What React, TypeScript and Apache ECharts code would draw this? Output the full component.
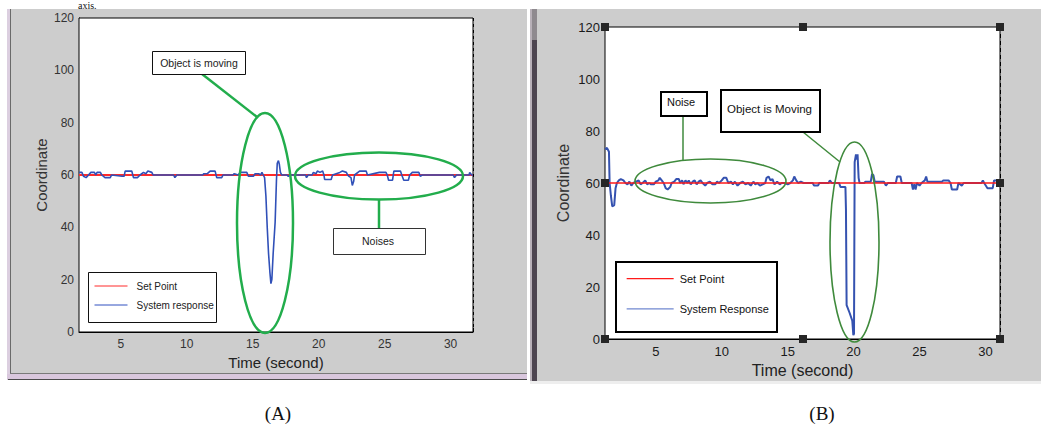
import React, { useEffect, useRef } from 'react';
import * as echarts from 'echarts';

// ---- Panel (A) data ----
const rangeA = [1.83, 31.7];
const setPointA: [number, number][] = [[1.83, 60], [31.7, 60]];
const responseA: [number, number][] = [
  [1.84, 61], [2.05, 61], [2.17, 59.5], [2.37, 59], [2.55, 60], [2.73, 61], [3.0, 61], [3.1, 60],
  [3.2, 61], [3.45, 61], [3.56, 60], [3.8, 59], [4.2, 59], [4.3, 60], [5.1, 59.5], [5.25, 59.5],
  [5.33, 61.5], [5.83, 61.5], [5.96, 59], [6.26, 59], [6.46, 60], [6.72, 61], [6.9, 60.5], [7.05, 61.5],
  [7.35, 61], [7.45, 60], [9.0, 60], [9.1, 59], [9.25, 60], [11.2, 60], [11.3, 60.5], [11.56, 60.5],
  [11.77, 61.5], [12.15, 61.5], [12.27, 59], [12.65, 59], [12.75, 60], [13.5, 60], [13.6, 60.5], [13.9, 60],
  [14.04, 61], [14.55, 61], [14.67, 59.5], [15.05, 59.5], [15.18, 60.5], [15.45, 60.5], [15.6, 60],
  [15.7, 61], [15.8, 60], [15.9, 59], [16.0, 52], [16.1, 40], [16.2, 30], [16.3, 23], [16.38, 18.5],
  [16.45, 20], [16.55, 30], [16.7, 42], [16.8, 58], [16.86, 64.5], [16.95, 65.5], [17.02, 64],
  [17.1, 61], [17.2, 60], [17.6, 60], [17.7, 59.5], [17.8, 60], [19.0, 60], [19.08, 59], [19.2, 60],
  [19.5, 60], [19.6, 61], [19.8, 60.5], [19.9, 61.5], [20.1, 61], [20.3, 61.5], [20.4, 60],
  [20.45, 58.3], [20.95, 58.3], [21.05, 60], [21.6, 61], [21.8, 61.5], [22.1, 61], [22.2, 60],
  [22.3, 59.5], [22.45, 59], [22.55, 56], [22.65, 57.5], [22.72, 60], [23.1, 61.5], [23.6, 61.5],
  [23.7, 60], [24.6, 61], [25.1, 61], [25.2, 60], [25.3, 58], [25.6, 58], [25.7, 61.5], [26.2, 61.5],
  [26.3, 60], [26.45, 58], [26.8, 58], [26.9, 60], [27.1, 61], [27.6, 61], [27.7, 59.5], [27.85, 60],
  [30.2, 60], [30.3, 59], [30.45, 60], [31.4, 60], [31.45, 61], [31.6, 60], [31.7, 60],
];

// ---- Panel (B) data ----
const rangeB = [1.15, 31.1];
const setPointB: [number, number][] = [[1.15, 60], [31.1, 60]];
const responseB: [number, number][] = [
  [1.16, 73], [1.3, 73.5], [1.45, 72], [1.5, 60], [1.6, 55], [1.7, 51], [1.85, 51.5], [1.95, 58],
  [2.05, 60], [2.2, 61], [2.35, 61.5], [2.55, 61], [2.7, 60], [2.85, 59.5], [3.0, 60.5], [3.15, 59],
  [3.3, 60], [3.5, 60.5], [3.7, 61], [3.85, 59.5], [4.0, 60], [4.2, 61], [4.35, 59.5], [4.5, 60],
  [4.65, 59.5], [4.85, 59.5], [5.0, 60.5], [5.2, 61], [5.3, 62], [5.45, 61], [5.6, 60], [5.75, 58],
  [5.9, 57.5], [6.1, 58.5], [6.2, 60], [6.4, 60.5], [6.55, 61.5], [6.75, 61.5], [6.85, 60], [7.0, 61],
  [7.1, 59.5], [7.25, 61], [7.4, 60], [7.5, 61], [7.65, 59.5], [7.8, 60.5], [7.95, 61], [8.1, 59.5],
  [8.25, 60.5], [8.4, 61], [8.55, 60], [8.75, 59], [8.9, 60], [9.1, 60.5], [9.3, 59.5], [9.5, 59.5],
  [9.65, 60.5], [9.8, 60], [10.0, 61], [10.15, 62], [10.35, 62], [10.5, 60], [10.7, 60.5], [10.85, 59.5],
  [11.0, 60.5], [11.2, 59], [11.4, 60], [11.6, 60.5], [11.8, 59.5], [12.0, 60], [12.2, 59], [12.4, 60.5],
  [12.55, 59.5], [12.7, 60], [12.9, 59], [13.1, 59.5], [13.3, 60], [13.4, 62], [13.55, 62.5], [13.7, 61],
  [13.85, 61.5], [14.0, 59.5], [14.2, 60.5], [14.4, 59.5], [14.55, 60], [14.8, 60], [15.0, 59.5],
  [15.2, 60], [15.4, 61], [15.5, 62.5], [15.65, 61], [15.8, 60], [16.0, 60.5], [16.2, 60], [16.9, 60],
  [17.0, 59], [17.3, 59], [17.4, 60], [18.1, 60], [18.2, 61], [18.35, 60], [18.9, 60], [19.0, 58.5],
  [19.38, 58.5], [19.42, 50], [19.47, 13], [19.7, 10], [19.9, 7], [19.98, 1.5], [20.03, 2], [20.08, 68],
  [20.18, 71], [20.25, 69], [20.3, 71], [20.38, 62], [20.45, 60], [20.8, 60], [20.9, 60.5], [21.3, 60.5],
  [21.4, 63.5], [21.5, 63], [21.6, 60.5], [22.3, 60.5], [22.45, 59], [22.6, 60], [23.2, 60], [23.3, 62.5],
  [23.55, 62.5], [23.65, 60], [24.4, 60], [24.5, 57.5], [24.6, 59.5], [24.7, 57.5], [24.8, 60], [25.0, 59],
  [25.15, 60], [25.4, 61], [25.5, 62.5], [25.6, 60.5], [26.2, 60.5], [26.7, 60.5], [26.8, 61], [27.2, 61],
  [27.35, 60], [27.45, 57.5], [27.85, 57.5], [27.95, 60], [28.2, 59], [28.35, 60], [29.7, 60], [29.8, 61],
  [29.9, 60], [30.15, 58], [30.55, 58], [30.65, 61], [30.9, 61], [31.1, 60],
];

const yTicks = { min: 0, max: 120, interval: 20 };
const xTickStep = 5;
const labelsText = {
  xName: 'Time (second)',
  yName: 'Coordinate',
  setA: 'Set Point',
  respA: 'System response',
  setB: 'Set Point ',
  respB: 'System Response',
  movingA: 'Object is moving',
  noisesA: 'Noises',
  noiseB: 'Noise',
  movingB: 'Object is Moving',
  capA: '(A)',
  capB: '(B)',
  pageText: 'axis.',
};

const SANS = 'Liberation Sans, Arial, Helvetica, sans-serif';
const SERIF = 'Liberation Serif, Times New Roman, serif';

function xAxisCfg(gridIndex: number, range: number[], fs: number, nameFs: number, nameGap: number, color: string, dash: number[]) {
  return {
    type: 'value',
    gridIndex,
    min: range[0],
    max: range[1],
    splitNumber: 6,
    minInterval: xTickStep,
    maxInterval: xTickStep,
    axisLine: { show: true, lineStyle: { color: '#000', width: 1 } },
    axisTick: { show: true, inside: true, length: 4, lineStyle: { color: '#000' } },
    axisLabel: {
      fontSize: fs,
      color,
      fontFamily: SANS,
      margin: 6,
      formatter: (v: number) => (Math.abs(v / xTickStep - Math.round(v / xTickStep)) < 1e-6 ? String(Math.round(v)) : ''),
    },
    splitLine: { show: true, lineStyle: { color: '#000', type: dash, width: 1 } },
    name: labelsText.xName,
    nameLocation: 'middle',
    nameGap,
    nameTextStyle: { fontSize: nameFs, color: '#222', fontFamily: SANS },
  };
}

function yAxisCfg(gridIndex: number, fs: number, nameFs: number, nameGap: number, color: string, dash: number[]) {
  return {
    type: 'value',
    gridIndex,
    min: yTicks.min,
    max: yTicks.max,
    interval: yTicks.interval,
    axisLine: { show: true, lineStyle: { color: '#000', width: 1 } },
    axisTick: { show: true, inside: true, length: 4, lineStyle: { color: '#000' } },
    axisLabel: { fontSize: fs, color, fontFamily: SANS, margin: 5 },
    splitLine: { show: true, lineStyle: { color: '#000', type: dash, width: 1 } },
    name: labelsText.yName,
    nameLocation: 'middle',
    nameGap,
    nameTextStyle: { fontSize: nameFs, color: '#333', fontFamily: SANS },
  };
}

const GREEN_A = '#22ad4c';
const GREEN_B = '#3f8a3c';

function handle(x: number, y: number) {
  return { type: 'rect', z: 120, shape: { x: x - 4, y: y - 4, width: 8, height: 8 }, style: { fill: '#262626' } };
}

export default function App() {
  const ref = useRef<HTMLDivElement>(null);
  useEffect(() => {
    if (!ref.current) return;
    const chart = echarts.init(ref.current, undefined, { renderer: 'svg' });
    const option: any = {
      animation: false,
      backgroundColor: '#ffffff',
      grid: [
        { left: 79, top: 18, width: 394, height: 314, show: true, backgroundColor: '#ffffff', borderColor: '#000', borderWidth: 1, z: 1 },
        { left: 605, top: 27, width: 395, height: 312, show: true, backgroundColor: '#ffffff', borderColor: '#000', borderWidth: 1, z: 1 },
      ],
      xAxis: [
        xAxisCfg(0, rangeA, 12, 15, 20, '#333', [3, 3]),
        xAxisCfg(1, rangeB, 13, 16, 22, '#1a1a1a', [4, 3]),
      ],
      yAxis: [
        yAxisCfg(0, 12, 15, 30, '#333', [3, 3]),
        yAxisCfg(1, 13, 16, 34, '#1a1a1a', [4, 3]),
      ],
      legend: [
        {
          orient: 'vertical', left: 94, top: 281, padding: 0, itemWidth: 33, itemHeight: 10, itemGap: 9, z: 60,
          itemStyle: { opacity: 0 },
          data: [
            { name: labelsText.setA, lineStyle: { width: 1, color: '#ff2a2a' }, itemStyle: { opacity: 0 } },
            { name: labelsText.respA, lineStyle: { width: 1, color: '#3050c0' }, itemStyle: { opacity: 0 } },
          ],
          textStyle: { fontSize: 10, color: '#222', fontFamily: SANS, padding: [0, 0, 0, 4] },
        },
        {
          orient: 'vertical', left: 626, top: 273, padding: 0, itemWidth: 47, itemHeight: 14, itemGap: 19, z: 60,
          itemStyle: { opacity: 0 },
          data: [
            { name: labelsText.setB, lineStyle: { width: 1.3, color: '#ff1a1a' }, itemStyle: { opacity: 0 } },
            { name: labelsText.respB, lineStyle: { width: 1.3, color: '#7088d0' }, itemStyle: { opacity: 0 } },
          ],
          textStyle: { fontSize: 11, color: '#111', fontFamily: SANS, padding: [0, 0, 0, 1] },
        },
      ],
      series: [
        {
          name: labelsText.setA, type: 'line', xAxisIndex: 0, yAxisIndex: 0, data: setPointA,
          symbol: 'none', showSymbol: false, z: 2, lineStyle: { color: '#ff2a2a', width: 2 }, itemStyle: { color: '#ff2a2a' },
        },
        {
          name: labelsText.respA, type: 'line', xAxisIndex: 0, yAxisIndex: 0, data: responseA,
          symbol: 'none', showSymbol: false, z: 3, lineStyle: { color: '#3050b8', width: 1.6 }, itemStyle: { color: '#3050b8' },
        },
        {
          name: labelsText.respB, type: 'line', xAxisIndex: 1, yAxisIndex: 1, data: responseB,
          symbol: 'none', showSymbol: false, z: 2, lineStyle: { color: '#3552b0', width: 2 }, itemStyle: { color: '#3552b0' },
        },
        {
          name: labelsText.setB, type: 'line', xAxisIndex: 1, yAxisIndex: 1, data: setPointB,
          symbol: 'none', showSymbol: false, z: 3, lineStyle: { color: '#ff1a1a', width: 1.6 }, itemStyle: { color: '#ff1a1a' },
        },
      ],
      graphic: [
        // text of the page above the figure
        { type: 'text', z: -5, x: 78, y: 0, style: { text: labelsText.pageText, fontSize: 10, fontFamily: SERIF, fill: '#111', verticalAlign: 'top' } },
        // Panel A window background
        { type: 'rect', z: -10, shape: { x: 7, y: 9, width: 520, height: 371 }, style: { fill: '#cdcdcd' } },
        { type: 'rect', z: -9, shape: { x: 7, y: 9, width: 3, height: 371 }, style: { fill: '#dccfe0' } },
        { type: 'line', z: -9, shape: { x1: 10.5, y1: 9, x2: 10.5, y2: 374 }, style: { stroke: '#6a6a6a', lineWidth: 1 } },
        { type: 'line', z: -9, shape: { x1: 10, y1: 373.5, x2: 527, y2: 373.5 }, style: { stroke: '#7a7a7a', lineWidth: 1 } },
        { type: 'rect', z: -9, shape: { x: 7, y: 374, width: 520, height: 5 }, style: { fill: '#d9c7dd' } },
        { type: 'line', z: -9, shape: { x1: 8, y1: 379.5, x2: 527, y2: 379.5 }, style: { stroke: '#4a4a4a', lineWidth: 1 } },
        // Panel B window background
        { type: 'rect', z: -10, shape: { x: 530, y: 9, width: 511, height: 372 }, style: { fill: '#cdcdcd' } },
        { type: 'rect', z: -9, shape: { x: 530, y: 9, width: 2, height: 372 }, style: { fill: '#b8b0b8' } },
        { type: 'rect', z: -9, shape: { x: 532, y: 9, width: 5, height: 31 }, style: { fill: '#8f8a8f' } },
        { type: 'rect', z: -9, shape: { x: 532, y: 40, width: 5, height: 341 }, style: { fill: '#4d4550' } },
        { type: 'rect', z: -9, shape: { x: 530, y: 381, width: 511, height: 3 }, style: { fill: '#eeeeee' } },

        // Panel A annotations
        { type: 'line', z: 100, shape: { x1: 202, y1: 74, x2: 257, y2: 117 }, style: { stroke: GREEN_A, lineWidth: 2.5 } },
        { type: 'ellipse', z: 100, shape: { cx: 265, cy: 223, rx: 28, ry: 110 }, style: { stroke: GREEN_A, lineWidth: 2.5, fill: 'none' } },
        { type: 'ellipse', z: 100, shape: { cx: 379, cy: 176, rx: 84, ry: 23.5 }, style: { stroke: GREEN_A, lineWidth: 2.5, fill: 'none' } },
        { type: 'line', z: 100, shape: { x1: 379, y1: 199, x2: 379, y2: 228 }, style: { stroke: GREEN_A, lineWidth: 2.5 } },
        { type: 'rect', z: 101, shape: { x: 152.5, y: 51.5, width: 93, height: 23 }, style: { fill: '#fff', stroke: '#111', lineWidth: 1 } },
        { type: 'text', z: 102, x: 199, y: 63, style: { text: labelsText.movingA, fontSize: 10.5, fontFamily: SANS, fill: '#222', align: 'center', verticalAlign: 'middle' } },
        { type: 'rect', z: 101, shape: { x: 333.5, y: 228.5, width: 92, height: 26 }, style: { fill: '#fff', stroke: '#333', lineWidth: 1 } },
        { type: 'text', z: 102, x: 378, y: 241, style: { text: labelsText.noisesA, fontSize: 10.5, fontFamily: SANS, fill: '#222', align: 'center', verticalAlign: 'middle' } },
        { type: 'rect', z: 50, shape: { x: 88.5, y: 272.5, width: 128, height: 50 }, style: { fill: '#fff', stroke: '#111', lineWidth: 1 } },

        // Panel B annotations
        { type: 'line', z: 100, shape: { x1: 683, y1: 116, x2: 683, y2: 160 }, style: { stroke: GREEN_B, lineWidth: 1.5 } },
        { type: 'ellipse', z: 100, shape: { cx: 710.5, cy: 181, rx: 75.5, ry: 22 }, style: { stroke: GREEN_B, lineWidth: 1.6, fill: 'none' } },
        { type: 'line', z: 100, shape: { x1: 803, y1: 132, x2: 840, y2: 162 }, style: { stroke: GREEN_B, lineWidth: 1.5 } },
        { type: 'ellipse', z: 100, shape: { cx: 854.5, cy: 242, rx: 24.5, ry: 100 }, style: { stroke: GREEN_B, lineWidth: 1.6, fill: 'none' } },
        { type: 'rect', z: 101, shape: { x: 661, y: 92, width: 46, height: 24 }, style: { fill: '#fff', stroke: '#000', lineWidth: 2 } },
        { type: 'text', z: 102, x: 667, y: 102, style: { text: labelsText.noiseB, fontSize: 11, fontFamily: SANS, fill: '#111', verticalAlign: 'middle' } },
        { type: 'rect', z: 101, shape: { x: 721, y: 90, width: 99, height: 42 }, style: { fill: '#fff', stroke: '#000', lineWidth: 2 } },
        { type: 'text', z: 102, x: 727, y: 109, style: { text: labelsText.movingB, fontSize: 11.5, fontFamily: SANS, fill: '#111', verticalAlign: 'middle' } },
        { type: 'rect', z: 50, shape: { x: 616, y: 262, width: 161, height: 70 }, style: { fill: '#fff', stroke: '#000', lineWidth: 2 } },

        // selection handles on panel B
        handle(605, 27), handle(803, 27), handle(1000, 27),
        handle(605, 339), handle(803, 339), handle(1000, 339),
        handle(605, 183), handle(1000, 183),

        // captions
        { type: 'text', x: 278, y: 413, style: { text: labelsText.capA, fontSize: 19, fontFamily: SERIF, fill: '#111', align: 'center', verticalAlign: 'middle' } },
        { type: 'text', x: 822, y: 413, style: { text: labelsText.capB, fontSize: 19, fontFamily: SERIF, fill: '#111', align: 'center', verticalAlign: 'middle' } },
      ],
    };
    chart.setOption(option);
    return () => chart.dispose();
  }, []);
  return (
    <div
      ref={ref}
      style={{ position: 'fixed', left: 0, top: 0, width: 1041, height: 425, background: '#fff' }}
    />
  );
}
